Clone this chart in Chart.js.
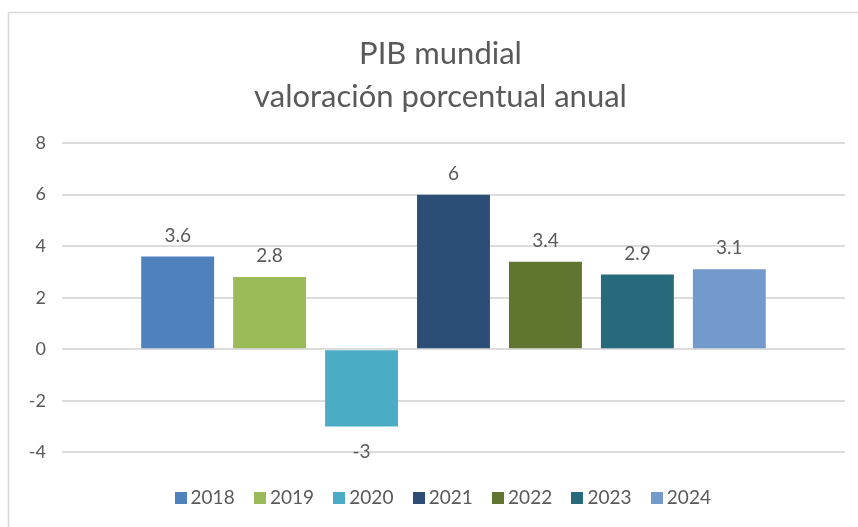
<!DOCTYPE html>
<html>
<head>
<meta charset="utf-8">
<script src="https://cdn.jsdelivr.net/npm/chart.js@4/dist/chart.umd.min.js"></script>
<style>
html,body{margin:0;padding:0;background:#fff;overflow:hidden;}
#wrap{position:absolute;left:0;top:0;width:858px;height:527px;}
</style>
</head>
<body>
<div id="wrap"><canvas id="c" width="858" height="527"></canvas></div>
<script>
const years = ['2018','2019','2020','2021','2022','2023','2024'];
const values = [3.6, 2.8, -3, 6, 3.4, 2.9, 3.1];
const colors = ['#4F81BD','#9BBB59','#4BACC6','#2C4D75','#5F7530','#276A7C','#729ACA'];
const yTicks = [-4,-2,0,2,4,6,8];
const titleLines = ['PIB mundial','valoración porcentual anual'];

const FONT = 'Lato, "Open Sans", sans-serif';
const TXT = '#595959';

// small square swatches used as legend markers
function swatch(color){
  const c = document.createElement('canvas');
  c.width = 12; c.height = 12;
  const g = c.getContext('2d');
  g.fillStyle = color; g.fillRect(0,0,12,12);
  return c;
}
const swatches = colors.map(swatch);

const frame = {
  id:'frame',
  beforeDraw(chart){
    const ctx = chart.ctx;
    ctx.save();
    ctx.strokeStyle = '#d9d9d9';
    ctx.lineWidth = 1.5;
    ctx.beginPath();
    ctx.moveTo(8.5, 540); ctx.lineTo(8.5, 12.5); ctx.lineTo(870, 12.5);
    ctx.stroke();
    ctx.restore();
  }
};
// centre title and legend on the outer frame (which extends past the right edge)
const recentre = {
  id:'recentre',
  afterLayout(chart){
    if (chart.titleBlock){ chart.titleBlock.left += 18; chart.titleBlock.right += 18; }
    if (chart.legend){ chart.legend.left += 23; chart.legend.right += 23; }
  }
};
const valueLabels = {
  id:'valueLabels',
  afterDatasetsDraw(chart){
    const ctx = chart.ctx;
    ctx.save();
    ctx.font = '19px ' + FONT;
    ctx.fillStyle = TXT;
    ctx.textAlign = 'center';
    ctx.textBaseline = 'middle';
    chart.data.datasets.forEach((ds,i)=>{
      const meta = chart.getDatasetMeta(i);
      const bar = meta.data[0];
      const v = ds.data[0];
      const y = v >= 0 ? bar.y - 21 : bar.y + 25;
      ctx.fillText(String(v), bar.x, y);
    });
    ctx.restore();
  }
};

new Chart(document.getElementById('c'), {
  type:'bar',
  data:{
    labels:[''],
    datasets: years.map((y,i)=>({label:y, data:[values[i]], backgroundColor:colors[i], borderWidth:0}))
  },
  options:{
    responsive:false,
    animation:false,
    layout:{padding:{left:0,right:13,top:0,bottom:10}},
    datasets:{bar:{categoryPercentage:0.822, barPercentage:0.793}},
    plugins:{
      title:{display:true, text:titleLines, color:TXT, font:{family:FONT,size:31,weight:'normal',lineHeight:1.39}, padding:{top:32,bottom:25}},
      legend:{position:'bottom', labels:{
        color:TXT, font:{family:FONT,size:19}, boxHeight:12, usePointStyle:true, pointStyleWidth:1, padding:24.8,
        generateLabels(chart){
          const items = Chart.defaults.plugins.legend.labels.generateLabels(chart);
          items.forEach((it)=>{ it.pointStyle = swatches[it.datasetIndex]; });
          return items;
        }
      }},
      tooltip:{enabled:false}
    },
    scales:{
      x:{
        display:true,
        grid:{display:false, drawTicks:false},
        border:{display:false},
        ticks:{display:false},
        afterFit(s){ s.height = 11; }
      },
      y:{
        min:-4, max:8,
        afterFit(s){ s.width = 62; },
        afterBuildTicks(s){ s.ticks = yTicks.map(v=>({value:v})); },
        border:{display:false},
        grid:{color:'#dcdcdc', lineWidth:2, drawTicks:false},
        ticks:{color:TXT, font:{family:FONT,size:18}, padding:16}
      }
    }
  },
  plugins:[frame, recentre, valueLabels]
});
</script>
</body>
</html>
